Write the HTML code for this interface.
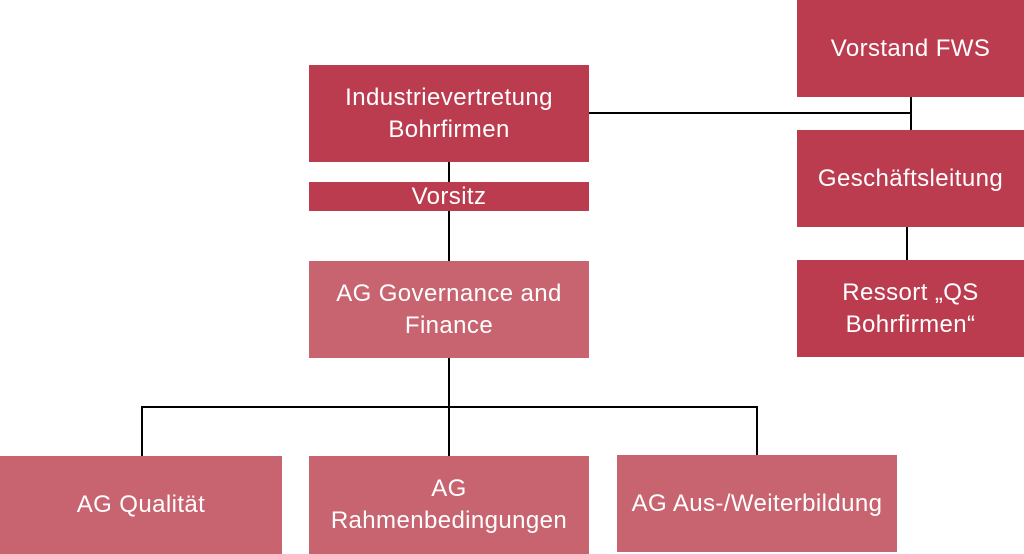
<!DOCTYPE html>
<html><head><meta charset="utf-8"><style>
body{margin:0;width:1024px;height:554px;background:#fff;position:relative;overflow:hidden;font-family:"Liberation Sans","DejaVu Sans",sans-serif}
.b{position:absolute;display:flex;align-items:center;justify-content:center;text-align:center;color:#fff;font-size:24px;line-height:32px;letter-spacing:0.4px}
.d{background:#bb3c4f}.l{background:#c86370}
.ln{position:absolute;background:#000}
</style></head><body>
<div class="ln" style="left:589px;top:112px;width:323px;height:2px"></div>
<div class="ln" style="left:910px;top:97px;width:2px;height:34px"></div>
<div class="ln" style="left:906px;top:227px;width:2px;height:33px"></div>
<div class="ln" style="left:448px;top:162px;width:2px;height:20px"></div>
<div class="ln" style="left:448px;top:211px;width:2px;height:50px"></div>
<div class="ln" style="left:448px;top:358px;width:2px;height:98px"></div>
<div class="ln" style="left:141px;top:406px;width:617px;height:2px"></div>
<div class="ln" style="left:141px;top:406px;width:2px;height:50px"></div>
<div class="ln" style="left:756px;top:406px;width:2px;height:50px"></div>
<div class="b d" style="left:797px;top:0;width:227px;height:97px">Vorstand FWS</div>
<div class="b d" style="left:309px;top:65px;width:280px;height:97px">Industrievertretung<br>Bohrfirmen</div>
<div class="b d" style="left:309px;top:182px;width:280px;height:29px">Vorsitz</div>
<div class="b l" style="left:309px;top:261px;width:280px;height:97px">AG Governance and<br>Finance</div>
<div class="b d" style="left:797px;top:130px;width:227px;height:97px">Geschäftsleitung</div>
<div class="b d" style="left:797px;top:260px;width:227px;height:97px">Ressort „QS<br>Bohrfirmen“</div>
<div class="b l" style="left:0;top:456px;width:282px;height:98px">AG Qualität</div>
<div class="b l" style="left:309px;top:456px;width:280px;height:98px">AG<br>Rahmenbedingungen</div>
<div class="b l" style="left:617px;top:455px;width:280px;height:97px">AG Aus-/Weiterbildung</div>
</body></html>
